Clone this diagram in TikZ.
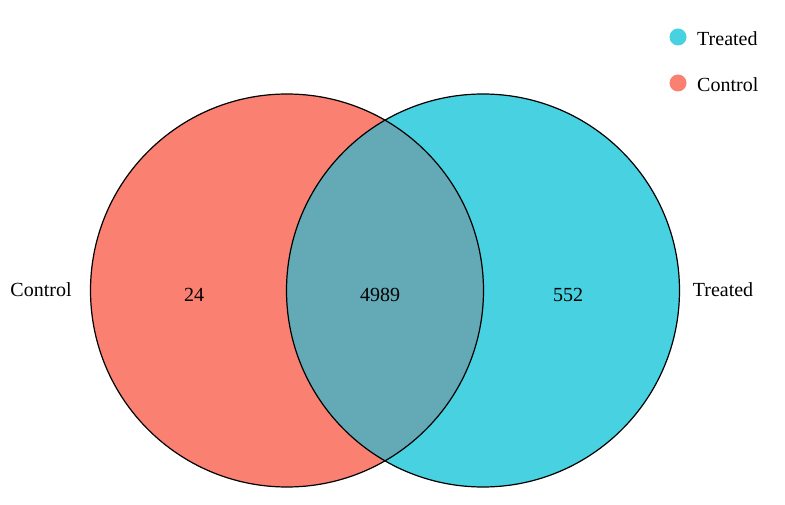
\documentclass[tikz,border=0pt]{standalone}
\usepackage{fontspec}
\setmainfont{Liberation Serif}
\definecolor{ctrl}{HTML}{FA8072}
\definecolor{treat}{HTML}{48D1E0}
\definecolor{both}{HTML}{63A9B6}
\tikzset{
  setlabel/.style={font=\fontsize{20}{23}\selectfont, inner sep=0pt},
  legdot/.style={circle, minimum size=17pt, inner sep=0pt},
  vennline/.style={draw=black, line width=1.2pt}
}
\begin{document}
\begin{tikzpicture}[x=1pt,y=-1pt]
\useasboundingbox (0,0) rectangle (785,505);
\coordinate (cl) at (287,290.5);
\coordinate (cr) at (483,290.5);
\fill[ctrl] (cl) circle (196.5);
\fill[treat] (cr) circle (196.5);
\begin{scope}
  \clip (cl) circle (196.5);
  \fill[both] (cr) circle (196.5);
\end{scope}
\draw[vennline] (cl) circle (196.5);
\draw[vennline] (cr) circle (196.5);
\node[setlabel] (lc) at (41,290) {Control};
\node[setlabel] (lt) at (723,290) {Treated};
\node[setlabel] (n1) at (194,295) {24};
\node[setlabel] (n2) at (380,295) {4989};
\node[setlabel] (n3) at (568,295) {552};
\node[legdot, fill=treat] (d1) at (678,37) {};
\node[legdot, fill=ctrl] (d2) at (678,83) {};
\node[setlabel, anchor=west] (t1) at (697,39) {Treated};
\node[setlabel, anchor=west] (t2) at (697,85) {Control};
\end{tikzpicture}
\end{document}
